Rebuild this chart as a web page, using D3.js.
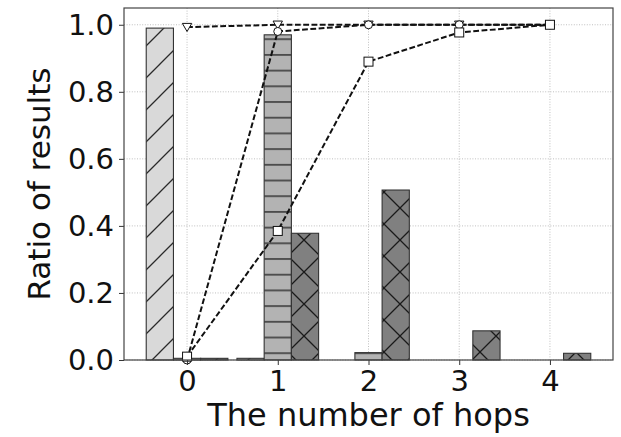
<!DOCTYPE html>
<html>
<head>
<meta charset="utf-8">
<script src="https://cdn.jsdelivr.net/npm/d3@7"></script>
<style>
  body { margin: 0; background: #fff; }
  text { font-family: "DejaVu Sans", sans-serif; fill: #111; }
</style>
</head>
<body>
<div id="canvas"></div>
<script>
const hops = [0, 1, 2, 3, 4];

// bars (ratio of results per hop)
const barA = [0.99, 0.005, 0, 0, 0];
const barB = [0.005, 0.97, 0.022, 0, 0];
const barC = [0.005, 0.378, 0.507, 0.087, 0.02];

// cumulative lines
const lineTri = [0.993, 1.0, 1.0, 1.0, 1.0];
const lineCirc = [0.0, 0.98, 1.0, 1.0, 1.0];
const lineSq = [0.01, 0.385, 0.89, 0.977, 1.0];

const yTicks = [0, 0.2, 0.4, 0.6, 0.8, 1.0];

const width = 621;
const height = 437;
const margin = { top: 8, left: 124, bottom: 77, right: 8 };

const canvas = d3.select("#canvas");
const svg = canvas.append("svg")
    .attr("width", width)
    .attr("height", height);

const x = d3.scaleLinear()
    .domain([-0.695, 4.695])
    .range([margin.left, width - margin.right]);

const y = d3.scaleLinear()
    .domain([0, 1.05])
    .range([height - margin.bottom, margin.top]);

const barW = x(0.3) - x(0);

// hatch patterns
const defs = svg.append("defs");
const hatchColor = "#2a2a2a";

let pA = defs.append("pattern").attr("id", "hA")
    .attr("patternUnits", "userSpaceOnUse").attr("width", 32).attr("height", 32);
pA.append("rect").attr("width", 32).attr("height", 32).attr("fill", "#d9d9d9");
pA.append("path").attr("d", "M-8,8 L8,-8 M0,32 L32,0 M24,40 L40,24")
    .attr("stroke", hatchColor).attr("stroke-width", 1.3);

let pB = defs.append("pattern").attr("id", "hB")
    .attr("patternUnits", "userSpaceOnUse").attr("width", 16).attr("height", 15.7);
pB.append("rect").attr("width", 16).attr("height", 15.7).attr("fill", "#b3b3b3");
pB.append("path").attr("d", "M0,7.8 L16,7.8")
    .attr("stroke", hatchColor).attr("stroke-width", 1.4);

let pC = defs.append("pattern").attr("id", "hC")
    .attr("patternUnits", "userSpaceOnUse").attr("width", 32).attr("height", 32);
pC.append("rect").attr("width", 32).attr("height", 32).attr("fill", "#808080");
pC.append("path").attr("d", "M-8,8 L8,-8 M0,32 L32,0 M24,40 L40,24 M-8,24 L8,40 M0,0 L32,32 M24,-8 L40,8")
    .attr("stroke", "#1a1a1a").attr("stroke-width", 1.3);

// grid
const grid = svg.append("g");
grid.selectAll("line.gy").data(yTicks).enter().append("line")
    .attr("x1", margin.left).attr("x2", width - margin.right)
    .attr("y1", d => y(d)).attr("y2", d => y(d))
    .attr("stroke", "#b0b0b0").attr("stroke-width", 0.8)
    .attr("stroke-dasharray", "1,1.6");
grid.selectAll("line.gx").data(hops).enter().append("line")
    .attr("y1", margin.top).attr("y2", height - margin.bottom)
    .attr("x1", d => x(d)).attr("x2", d => x(d))
    .attr("stroke", "#b0b0b0").attr("stroke-width", 0.8)
    .attr("stroke-dasharray", "1,1.6");

// bars
const series = [
    { vals: barA, off: -0.3, fill: "url(#hA)" },
    { vals: barB, off: 0, fill: "url(#hB)" },
    { vals: barC, off: 0.3, fill: "url(#hC)" }
];
series.forEach(s => {
    svg.append("g").selectAll("rect").data(hops).enter().append("rect")
        .attr("x", d => x(d + s.off) - barW / 2)
        .attr("width", barW)
        .attr("y", (d, i) => y(s.vals[i]))
        .attr("height", (d, i) => y(0) - y(s.vals[i]))
        .attr("fill", s.fill)
        .attr("stroke", "#333")
        .attr("stroke-width", 1.1);
});

// lines
const lineGen = vals => d3.line()
    .x((d, i) => x(hops[i]))
    .y(d => y(d))(vals);

[lineTri, lineCirc, lineSq].forEach(vals => {
    svg.append("path")
        .attr("d", lineGen(vals))
        .attr("fill", "none")
        .attr("stroke", "#111")
        .attr("stroke-width", 2)
        .attr("stroke-dasharray", "5.8,2.5");
});

const mk = svg.append("g").attr("fill", "#fff").attr("stroke", "#111").attr("stroke-width", 1);
mk.selectAll("path.tri").data(lineTri).enter().append("path")
    .attr("d", d3.symbol().type(d3.symbolTriangle).size(38))
    .attr("transform", (d, i) => `translate(${x(hops[i])},${y(d) - 1}) rotate(180)`);
mk.selectAll("circle").data(lineCirc).enter().append("circle")
    .attr("cx", (d, i) => x(hops[i])).attr("cy", d => y(d)).attr("r", 4);
mk.selectAll("rect").data(lineSq).enter().append("rect")
    .attr("x", (d, i) => x(hops[i]) - 4.5).attr("y", d => y(d) - 4.5)
    .attr("width", 9).attr("height", 9);

// axes
const yAxis = svg.append("g")
    .attr("transform", `translate(${margin.left},0)`)
    .call(d3.axisLeft(y).tickValues(yTicks).tickFormat(d3.format(".1f")).tickSize(5).tickPadding(5));
const xAxis = svg.append("g")
    .attr("transform", `translate(0,${height - margin.bottom})`)
    .call(d3.axisBottom(x).tickValues(hops).tickFormat(d3.format("d")).tickSize(5).tickPadding(5));

[yAxis, xAxis].forEach(a => {
    a.select(".domain").remove();
    a.selectAll("line").attr("stroke", "#333");
    a.selectAll("text").style("font-size", "29px").attr("fill", "#111");
});

// frame
svg.append("rect")
    .attr("x", margin.left).attr("y", margin.top)
    .attr("width", width - margin.left - margin.right)
    .attr("height", height - margin.top - margin.bottom)
    .attr("fill", "none").attr("stroke", "#444").attr("stroke-width", 1.2);

// labels
svg.append("text")
    .attr("x", (margin.left + width - margin.right) / 2)
    .attr("y", 426)
    .attr("text-anchor", "middle")
    .style("font-size", "32px")
    .text("The number of hops");

svg.append("text")
    .attr("transform", `translate(50,${(margin.top + height - margin.bottom) / 2}) rotate(-90)`)
    .attr("text-anchor", "middle")
    .style("font-size", "31px")
    .text("Ratio of results");
</script>
</body>
</html>
